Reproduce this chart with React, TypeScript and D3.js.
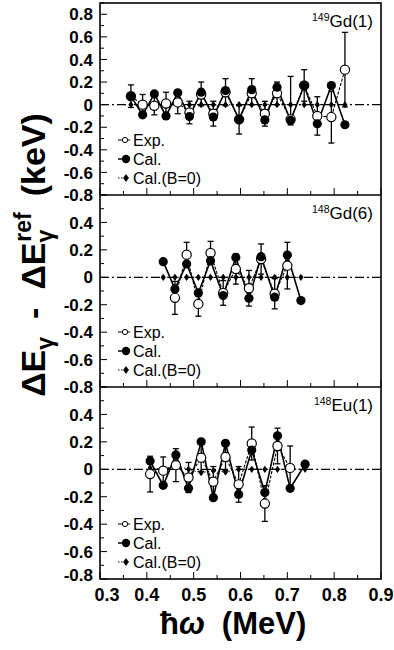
import * as d3 from "d3";

// x axis
const xTickLabels = ["0.3", "0.4", "0.5", "0.6", "0.7", "0.8", "0.9"];

// 149Gd(1)
const p1X = [0.366, 0.391, 0.416, 0.441, 0.466, 0.491, 0.516, 0.542, 0.568, 0.597, 0.624, 0.652, 0.678, 0.707, 0.736, 0.764, 0.794, 0.823];
const p1Exp = [0.075, 0.0, -0.01, 0.01, 0.02, -0.07, 0.09, -0.08, 0.11, -0.13, 0.1, -0.08, 0.1, -0.13, 0.17, -0.1, -0.11, 0.31];
const p1ErrHi = [0.1, 0.09, 0.09, 0.1, 0.09, 0.1, 0.11, 0.11, 0.12, 0.12, 0.13, 0.11, 0.1, 0.38, 0.14, 0.17, 0.23, 0.33];
const p1ErrLo = [0.1, 0.09, 0.08, 0.11, 0.1, 0.1, 0.1, 0.11, 0.12, 0.13, 0.1, 0.11, 0.1, 0.05, 0.14, 0.17, 0.23, 0.33];
const p1Cal = [0.075, -0.09, 0.095, -0.1, 0.105, -0.105, 0.11, -0.11, 0.125, -0.13, 0.133, -0.135, 0.155, -0.14, 0.169, -0.169, 0.169, -0.178];
const p1B0 = [0, 0, 0, 0, 0, 0, 0, 0, 0, 0, 0, 0, 0, 0, 0, 0, 0, 0];
const p1Ticks = [0.8, 0.6, 0.4, 0.2, 0, -0.2, -0.4, -0.6, -0.8];

// 148Gd(6)
const p2X = [0.435, 0.46, 0.485, 0.51, 0.536, 0.563, 0.59, 0.618, 0.644, 0.673, 0.7, 0.729];
const p2Exp = [null, -0.15, 0.165, -0.194, 0.177, -0.114, 0.06, -0.08, 0.133, -0.12, 0.085, null];
const p2Err = [null, 0.12, 0.09, 0.09, 0.085, 0.09, 0.11, 0.13, 0.11, 0.11, 0.17, null];
const p2Cal = [0.114, -0.085, 0.097, -0.114, 0.121, -0.133, 0.145, -0.153, 0.15, -0.145, 0.162, -0.17];
const p2B0 = [0, 0, 0, 0, 0, 0, 0, 0, 0, 0, 0, 0];

// 148Eu(1)
const p3X = [0.407, 0.435, 0.462, 0.489, 0.516, 0.542, 0.568, 0.596, 0.624, 0.652, 0.679, 0.706, 0.738];
const p3Exp = [-0.035, -0.01, 0.03, -0.06, 0.085, -0.09, 0.09, -0.11, 0.188, -0.25, 0.17, 0.01, null];
const p3Err = [0.13, 0.1, 0.12, 0.11, 0.1, 0.11, 0.1, 0.13, 0.12, 0.13, 0.13, 0.16, null];
const p3Cal = [0.06, -0.117, 0.105, -0.139, 0.2, -0.207, 0.19, -0.183, 0.14, -0.17, 0.244, -0.139, 0.037];
const p3B0 = [0.01, 0, 0.03, 0, -0.025, -0.01, -0.02, 0, 0, 0, 0, 0, 0];
const p23Ticks = [0.4, 0.2, 0, -0.2, -0.4, -0.6, -0.8];

const legendLabels = ["Exp.", "Cal.", "Cal.(B=0)"];

const panels = [
  { yMax: 0.9, xs: p1X, exp: p1Exp, hi: p1ErrHi, lo: p1ErrLo, cal: p1Cal, b0: p1B0, ticks: p1Ticks, mass: "149", name: "Gd(1)" },
  { yMax: 0.6, xs: p2X, exp: p2Exp, hi: p2Err, lo: p2Err, cal: p2Cal, b0: p2B0, ticks: p23Ticks, mass: "148", name: "Gd(6)" },
  { yMax: 0.6, xs: p3X, exp: p3Exp, hi: p3Err, lo: p3Err, cal: p3Cal, b0: p3B0, ticks: p23Ticks, mass: "148", name: "Eu(1)" },
];

const L = 100, R = 381, T = 3, PH = 192;
const font = "'Liberation Sans', Arial, Helvetica, sans-serif";

function Diamond({ cx, cy, s = 1 }) {
  return <path d={`M${cx},${cy - 3.6 * s}L${cx + 2.6 * s},${cy}L${cx},${cy + 3.6 * s}L${cx - 2.6 * s},${cy}Z`} fill="#000" />;
}

function Panel({ p, i, x }) {
  const y0 = T + i * PH;
  const y = d3.scaleLinear().domain([-0.8, p.yMax]).range([y0 + PH, y0]);
  const pts = p.xs.map((xv, k) => ({ x: xv, exp: p.exp[k], hi: p.hi[k], lo: p.lo[k], cal: p.cal[k], b0: p.b0[k] }));

  const lineExp = d3.line().defined((d) => d.exp != null).x((d) => x(d.x)).y((d) => y(d.exp));
  const lineCal = d3.line().x((d) => x(d.x)).y((d) => y(d.cal));
  const lineB0 = d3.line().x((d) => x(d.x)).y((d) => y(d.b0));

  const yMinor = d3.range(-8, Math.floor(p.yMax * 10 + 1e-6) + 1).map((k) => ({ v: k / 10, major: k % 2 === 0 }));
  const xMinor = d3.range(6, 19).map((k) => ({ v: k / 20, major: k % 2 === 0 }));
  const ly = y0 + 137;

  return (
    <g>
      {/* ticks */}
      {yMinor.map((t) => (
        <line key={"yt" + t.v} x1={L} x2={L + (t.major ? 7 : 4)} y1={y(t.v)} y2={y(t.v)} stroke="#000" strokeWidth={1} />
      ))}
      {xMinor.map((t) => (
        <line key={"xt" + t.v} x1={x(t.v)} x2={x(t.v)} y1={y0 + PH} y2={y0 + PH - (t.major ? 7 : 4)} stroke="#000" strokeWidth={1} />
      ))}
      {p.ticks.map((t) => (
        <text key={"yl" + t} x={93} y={y(t) + (i === 2 && t === -0.8 ? -4 : 0)} dy="0.36em" textAnchor="end" fontSize={17} fontWeight="bold" fontFamily={font}>
          {t === 0 ? "0" : String(t)}
        </text>
      ))}

      {/* zero reference */}
      <line x1={L} x2={R} y1={y(0)} y2={y(0)} stroke="#000" strokeWidth={1.3} strokeDasharray="9,3,2,3" />

      {/* lines */}
      <path d={lineB0(pts)} fill="none" stroke="#000" strokeWidth={1} strokeDasharray="1.5,2" />
      <path d={lineExp(pts)} fill="none" stroke="#000" strokeWidth={1.1} strokeDasharray="3,1.5" />
      <path d={lineCal(pts)} fill="none" stroke="#000" strokeWidth={1.6} />

      {/* error bars */}
      {pts.filter((d) => d.exp != null).map((d, k) => {
        const cx = x(d.x);
        const yh = y(d.exp + d.hi);
        const yl = y(d.exp - d.lo);
        return (
          <g key={"e" + k} stroke="#000" strokeWidth={1.3}>
            <line x1={cx} x2={cx} y1={yh} y2={yl} />
            <line x1={cx - 3} x2={cx + 3} y1={yh} y2={yh} />
            <line x1={cx - 3} x2={cx + 3} y1={yl} y2={yl} />
          </g>
        );
      })}

      {/* markers */}
      {pts.map((d, k) => <Diamond key={"d" + k} cx={x(d.x)} cy={y(d.b0)} />)}
      {pts.filter((d) => d.exp != null).map((d, k) => (
        <circle key={"o" + k} cx={x(d.x)} cy={y(d.exp)} r={4.6} fill="#fff" stroke="#000" strokeWidth={1.2} />
      ))}
      {pts.map((d, k) => <circle key={"c" + k} cx={x(d.x)} cy={y(d.cal)} r={4.6} fill="#000" />)}

      {/* panel label */}
      <text x={373} y={y0 + 24} textAnchor="end" fontSize={17} fontFamily={font}>
        <tspan fontSize={10.5} dy={-6}>{p.mass}</tspan>
        <tspan dy={6}>{p.name}</tspan>
      </text>

      {/* legend */}
      <g fontFamily={font} fontSize={16}>
        <line x1={118} x2={130} y1={ly} y2={ly} stroke="#000" strokeWidth={1} />
        <circle cx={125} cy={ly} r={2.6} fill="#fff" stroke="#000" strokeWidth={1} />
        <line x1={118} x2={130} y1={ly + 19} y2={ly + 19} stroke="#000" strokeWidth={1.5} />
        <circle cx={126} cy={ly + 19} r={4.2} fill="#000" />
        <line x1={118} x2={130} y1={ly + 38} y2={ly + 38} stroke="#000" strokeWidth={1} strokeDasharray="1.5,1.5" />
        <Diamond cx={126} cy={ly + 38} s={1.1} />
        {legendLabels.map((s, k) => (
          <text key={s} x={133} y={ly + k * 19} dy="0.36em">{s}</text>
        ))}
      </g>
    </g>
  );
}

export default function App() {
  const x = d3.scaleLinear().domain([0.3, 0.9]).range([L, R]);
  return (
    <svg width={394} height={650} style={{ position: "absolute", left: 0, top: 0, background: "#fff" }}>
      <rect x={0} y={0} width={394} height={650} fill="#fff" />
      {panels.map((p, i) => <Panel key={i} p={p} i={i} x={x} />)}

      {/* frame */}
      <g stroke="#000" strokeWidth={1.6} fill="none">
        <rect x={L} y={T} width={R - L} height={3 * PH} />
        <line x1={L} x2={R} y1={T + PH} y2={T + PH} />
        <line x1={L} x2={R} y1={T + 2 * PH} y2={T + 2 * PH} />
      </g>

      {xTickLabels.map((s, k) => (
        <text key={s} x={x(+s) + (k === 0 ? 7 : 0)} y={601} textAnchor="middle" fontSize={18} fontWeight="bold" fontFamily={font}>
          {s}
        </text>
      ))}

      <text x={160} y={634} fontSize={31} fontWeight="bold" fontFamily={font}>
        <tspan>ħ</tspan><tspan fontStyle="italic">ω</tspan>
        <tspan dx={17}>(MeV)</tspan>
      </text>

      <text transform="translate(45,255) rotate(-90)" textAnchor="middle" fontSize={34} fontWeight="bold" fontFamily={font}>
        <tspan>ΔE</tspan>
        <tspan fontSize={23} dy={8}>γ</tspan>
        <tspan dy={-8} dx={18}>-</tspan>
        <tspan dx={18}>ΔE</tspan>
        <tspan fontSize={23} dy={8}>γ</tspan>
        <tspan fontSize={23} dx={-12} dy={-22}>ref</tspan>
        <tspan dy={14} dx={16}>(keV)</tspan>
      </text>
    </svg>
  );
}
